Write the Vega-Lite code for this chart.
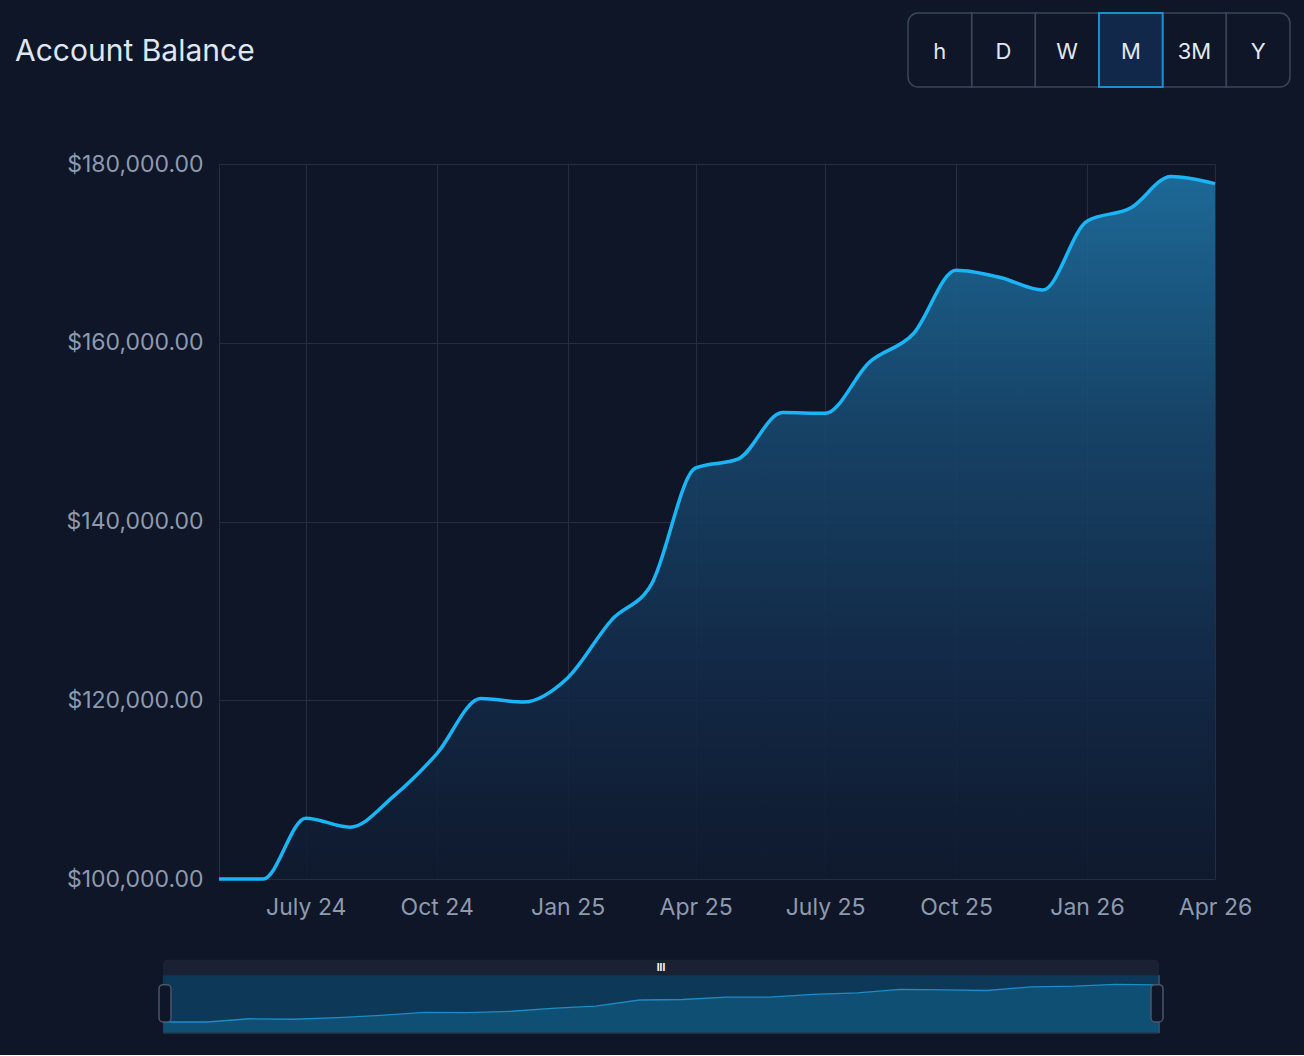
{
  "$schema": "https://vega.github.io/schema/vega-lite/v6.json",
  "background": "#0f1628",
  "padding": {"left": 15, "top": 12, "right": 13, "bottom": 21},
  "bounds": "flush",
  "spacing": 77,
  "config": {
    "view": {"stroke": null},
    "font": "Inter",
    "axis": {"labelFont": "Inter", "labelFontSize": 23, "labelColor": "#8e9aae", "gridColor": "#232e41", "gridWidth": 1, "ticks": false}
  },
  "datasets": {
    "balance": [
      {"month": "2024-05-01", "balance": 100000},
      {"month": "2024-06-01", "balance": 100000},
      {"month": "2024-07-01", "balance": 106800},
      {"month": "2024-08-01", "balance": 105800},
      {"month": "2024-09-01", "balance": 109300},
      {"month": "2024-10-01", "balance": 114000},
      {"month": "2024-11-01", "balance": 120200},
      {"month": "2024-12-01", "balance": 119800},
      {"month": "2025-01-01", "balance": 122500},
      {"month": "2025-02-01", "balance": 129000},
      {"month": "2025-03-01", "balance": 133000},
      {"month": "2025-04-01", "balance": 146000},
      {"month": "2025-05-01", "balance": 147000},
      {"month": "2025-06-01", "balance": 152200},
      {"month": "2025-07-01", "balance": 152100},
      {"month": "2025-08-01", "balance": 157800},
      {"month": "2025-09-01", "balance": 161000},
      {"month": "2025-10-01", "balance": 168100},
      {"month": "2025-11-01", "balance": 167300},
      {"month": "2025-12-01", "balance": 165900},
      {"month": "2026-01-01", "balance": 173600},
      {"month": "2026-02-01", "balance": 175100},
      {"month": "2026-03-01", "balance": 178600},
      {"month": "2026-04-01", "balance": 177800}
    ],
    "buttons": [
      {"label": "h", "selected": false},
      {"label": "D", "selected": false},
      {"label": "W", "selected": false},
      {"label": "M", "selected": true},
      {"label": "3M", "selected": false},
      {"label": "Y", "selected": false}
    ]
  },
  "vconcat": [
    {
      "width": 1071,
      "height": 74,
      "title": {
        "text": "Account Balance",
        "anchor": "start",
        "frame": "group",
        "orient": "top",
        "offset": 0,
        "baseline": "alphabetic",
        "dx": -204,
        "dy": 79,
        "font": "Inter",
        "fontSize": 30,
        "fontWeight": "normal",
        "color": "#dfe6f0"
      },
      "data": {"name": "buttons"},
      "encoding": {
        "x": {
          "field": "label",
          "type": "nominal",
          "sort": null,
          "scale": {"domain": ["h", "D", "W", "M", "3M", "Y"], "range": [689, 1071], "paddingInner": 0, "paddingOuter": 0},
          "axis": null
        }
      },
      "layer": [
        {
          "transform": [{"filter": "datum.label != 'h' && datum.label != 'Y'"}],
          "mark": {"type": "rect", "fill": "#0f1628", "stroke": "#3a4658", "strokeWidth": 1.5}
        },
        {
          "transform": [{"filter": "datum.label == 'h'"}],
          "mark": {"type": "rect", "fill": "#0f1628", "stroke": "#3a4658", "strokeWidth": 1.5, "cornerRadiusTopLeft": 10, "cornerRadiusBottomLeft": 10}
        },
        {
          "transform": [{"filter": "datum.label == 'Y'"}],
          "mark": {"type": "rect", "fill": "#0f1628", "stroke": "#3a4658", "strokeWidth": 1.5, "cornerRadiusTopRight": 10, "cornerRadiusBottomRight": 10}
        },
        {
          "transform": [{"filter": "datum.selected"}],
          "mark": {"type": "rect", "fill": "#11284a", "stroke": "#1b8fce", "strokeWidth": 2}
        },
        {
          "mark": {"type": "text", "font": "Inter", "fontSize": 22, "color": "#e2e8f0", "baseline": "middle", "dy": 2},
          "encoding": {"text": {"field": "label"}}
        }
      ]
    },
    {
      "width": 996,
      "height": 715,
      "data": {"name": "balance"},
      "encoding": {
        "x": {
          "field": "month",
          "type": "temporal",
          "scale": {
            "type": "utc",
            "nice": false,
            "domain": [{"year": 2024, "month": 5, "date": 1, "utc": true}, {"year": 2026, "month": 4, "date": 1, "utc": true}]
          },
          "axis": {
            "title": null,
            "grid": true,
            "domain": false,
            "labelPadding": 17,
            "labelFlush": false,
            "labelOverlap": false,
            "values": [
              {"year": 2024, "month": 7, "date": 1, "utc": true},
              {"year": 2024, "month": 10, "date": 1, "utc": true},
              {"year": 2025, "month": 1, "date": 1, "utc": true},
              {"year": 2025, "month": 4, "date": 1, "utc": true},
              {"year": 2025, "month": 7, "date": 1, "utc": true},
              {"year": 2025, "month": 10, "date": 1, "utc": true},
              {"year": 2026, "month": 1, "date": 1, "utc": true},
              {"year": 2026, "month": 4, "date": 1, "utc": true}
            ],
            "labelExpr": "utcFormat(datum.value, '%b') == 'Jul' ? 'July ' + utcFormat(datum.value, '%y') : utcFormat(datum.value, '%b %y')"
          }
        },
        "y": {
          "field": "balance",
          "type": "quantitative",
          "scale": {"domain": [100000, 180000], "nice": false, "zero": false},
          "axis": {
            "title": null,
            "grid": true,
            "domain": true,
            "domainColor": "#232e41",
            "domainWidth": 1,
            "values": [100000, 120000, 140000, 160000, 180000],
            "format": "$,.2f",
            "labelPadding": 16
          }
        }
      },
      "layer": [
        {
          "mark": {
            "type": "area",
            "interpolate": "monotone",
            "fillOpacity": 0.88,
            "color": {
              "gradient": "linear",
              "x1": 0, "y1": 0, "x2": 0, "y2": 1,
              "stops": [
                {"offset": 0, "color": "#1f74a6"},
                {"offset": 0.35, "color": "#17496f"},
                {"offset": 0.7, "color": "#132b4a"},
                {"offset": 1, "color": "#0f1a2e"}
              ]
            }
          },
          "encoding": {"y2": {"datum": 100000}}
        },
        {
          "mark": {"type": "line", "interpolate": "monotone", "color": "#19b5f7", "strokeWidth": 3.5}
        }
      ]
    },
    {
      "width": 996,
      "height": 77,
      "encoding": {
        "x": {
          "type": "temporal",
          "scale": {
            "type": "utc",
            "nice": false,
            "range": [-56, 940],
            "domain": [{"year": 2024, "month": 5, "date": 1, "utc": true}, {"year": 2026, "month": 4, "date": 1, "utc": true}]
          },
          "axis": null
        },
        "y": {
          "type": "quantitative",
          "scale": {"domain": [77000, 238000], "nice": false, "zero": false},
          "axis": null
        }
      },
      "layer": [
        {
          "data": {"values": [{}]},
          "mark": {"type": "rect", "fill": "#1a2132", "cornerRadiusTopLeft": 4, "cornerRadiusTopRight": 4},
          "encoding": {
            "x": {"datum": {"year": 2024, "month": 5, "date": 1, "utc": true}, "type": "temporal"},
            "x2": {"datum": {"year": 2026, "month": 4, "date": 1, "utc": true}},
            "y": {"datum": 198000, "type": "quantitative"},
            "y2": {"datum": 230000}
          }
        },
        {
          "data": {"values": [{}]},
          "mark": {"type": "rect", "fill": "#0d3858"},
          "encoding": {
            "x": {"datum": {"year": 2024, "month": 5, "date": 1, "utc": true}, "type": "temporal"},
            "x2": {"datum": {"year": 2026, "month": 4, "date": 1, "utc": true}},
            "y": {"datum": 77000, "type": "quantitative"},
            "y2": {"datum": 198000}
          }
        },
        {
          "data": {"name": "balance"},
          "mark": {"type": "area", "color": "#104f74"},
          "encoding": {
            "x": {"field": "month", "type": "temporal"},
            "y": {"field": "balance", "type": "quantitative"},
            "y2": {"datum": 77000}
          }
        },
        {
          "data": {"name": "balance"},
          "mark": {"type": "line", "color": "#1c8cc6", "strokeWidth": 1.3},
          "encoding": {
            "x": {"field": "month", "type": "temporal"},
            "y": {"field": "balance", "type": "quantitative"}
          }
        },
        {
          "data": {"values": [{}]},
          "mark": {"type": "rule", "color": "#23394f", "strokeWidth": 1.5},
          "encoding": {
            "x": {"datum": {"year": 2024, "month": 5, "date": 1, "utc": true}, "type": "temporal"},
            "x2": {"datum": {"year": 2026, "month": 4, "date": 1, "utc": true}},
            "y": {"datum": 77000, "type": "quantitative"}
          }
        },
        {
          "data": {"values": [{"edge": "start"}, {"edge": "end"}]},
          "mark": {"type": "rule", "color": "#2d4f6c", "strokeWidth": 1.5},
          "encoding": {
            "x": {"condition": {"test": "datum.edge == 'start'", "datum": {"year": 2024, "month": 5, "date": 1, "utc": true}}, "datum": {"year": 2026, "month": 4, "date": 1, "utc": true}, "type": "temporal"},
            "y": {"datum": 77000, "type": "quantitative"},
            "y2": {"datum": 198000}
          }
        },
        {
          "data": {"values": [{}]},
          "mark": {"type": "rect", "fill": "#0f1628", "stroke": "#4b5669", "strokeWidth": 1.5, "cornerRadius": 4, "xOffset": -4, "x2Offset": 8},
          "encoding": {
            "x": {"datum": {"year": 2024, "month": 5, "date": 1, "utc": true}, "type": "temporal"},
            "x2": {"datum": {"year": 2024, "month": 5, "date": 1, "utc": true}},
            "y": {"datum": 100000, "type": "quantitative"},
            "y2": {"datum": 178000}
          }
        },
        {
          "data": {"values": [{}]},
          "mark": {"type": "rect", "fill": "#0f1628", "stroke": "#4b5669", "strokeWidth": 1.5, "cornerRadius": 4, "xOffset": -8, "x2Offset": 4},
          "encoding": {
            "x": {"datum": {"year": 2026, "month": 4, "date": 1, "utc": true}, "type": "temporal"},
            "x2": {"datum": {"year": 2026, "month": 4, "date": 1, "utc": true}},
            "y": {"datum": 100000, "type": "quantitative"},
            "y2": {"datum": 178000}
          }
        },
        {
          "data": {"values": [{"grip": "III"}]},
          "mark": {"type": "text", "font": "Inter", "fontSize": 10, "fontWeight": "bold", "color": "#ffffff", "baseline": "middle"},
          "encoding": {
            "x": {"datum": {"year": 2025, "month": 4, "date": 16, "utc": true}, "type": "temporal"},
            "y": {"datum": 213000, "type": "quantitative"},
            "text": {"field": "grip"}
          }
        }
      ]
    }
  ]
}
